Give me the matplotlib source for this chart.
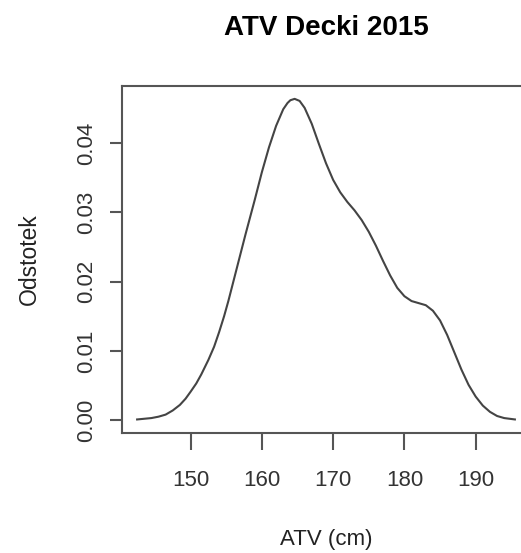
import numpy as np
import matplotlib
matplotlib.use("Agg")
import matplotlib.pyplot as plt

# density curve (x = ATV cm, y = density)
atv = [142.5, 143.5, 144.5, 145.5, 146.5, 147.5, 148.5, 149.3, 150.0, 150.8,
       151.5, 152.5, 153.3, 154.0, 154.7, 155.3, 156.5, 157.7, 159.0, 160.0,
       161.0, 162.0, 163.0, 163.6, 164.0, 164.6, 165.3, 166.0, 167.0, 168.0,
       169.0, 170.0, 171.0, 172.0, 173.0, 174.0, 175.0, 176.0, 177.0, 178.0,
       179.0, 180.0, 181.0, 182.0, 183.0, 184.0, 185.0, 186.0, 187.0, 188.0,
       189.0, 190.0, 191.0, 192.0, 193.0, 194.0, 195.5]
dens = [0.0001, 0.0002, 0.0003, 0.0005, 0.0008, 0.0014, 0.0022, 0.0031, 0.0041, 0.0053,
        0.0066, 0.0087, 0.0106, 0.0127, 0.0150, 0.0172, 0.0220, 0.0268, 0.0318, 0.0358,
        0.0394, 0.0425, 0.0449, 0.0458, 0.0462, 0.0464, 0.0461, 0.0451, 0.0428, 0.0399,
        0.0371, 0.0347, 0.0329, 0.0315, 0.0303, 0.0289, 0.0272, 0.0252, 0.0230, 0.0209,
        0.0191, 0.0179, 0.0172, 0.0169, 0.0166, 0.0158, 0.0144, 0.0123, 0.0098, 0.0073,
        0.0051, 0.0034, 0.0021, 0.0012, 0.0006, 0.0003, 0.0001]

xticks = [150, 160, 170, 180, 190]
yticks = [0.00, 0.01, 0.02, 0.03, 0.04]

plt.rcParams['font.family'] = ['Liberation Sans', 'DejaVu Sans']

fig = plt.figure(figsize=(5.21, 5.53), dpi=100)
ax = fig.add_axes([122/521, 120/553, 408/521, 347/553])

ax.plot(atv, dens, color='#444444', lw=1.5)

pad_x = (max(atv) - min(atv)) * 0.04
ax.set_xlim(min(atv) - pad_x, max(atv) + pad_x)
pad_y = max(dens) * 0.04
ax.set_ylim(-pad_y, max(dens) + pad_y)

ax.set_xticks(xticks)
ax.set_xticklabels([str(t) for t in xticks])
ax.set_yticks(yticks)
ax.set_yticklabels(['%.2f' % t for t in yticks], rotation=90, va='center')

for s in ax.spines.values():
    s.set_color('#555555')
    s.set_linewidth(1.5)

ax.tick_params(axis='x', length=12, width=1.5, color='#555555', pad=15,
               labelsize=16, labelcolor='#333333')
ax.tick_params(axis='y', length=9, width=1.5, color='#555555', pad=9,
               labelsize=16, labelcolor='#333333')

ax.set_title('ATV Decki 2015', fontsize=20, fontweight='bold', pad=37)
ax.set_xlabel('ATV (cm)', fontsize=16, labelpad=27, color='#222222')
ax.set_ylabel('Odstotek', fontsize=16.5, labelpad=25, color='#222222')

fig.savefig('out.png', dpi=100)
